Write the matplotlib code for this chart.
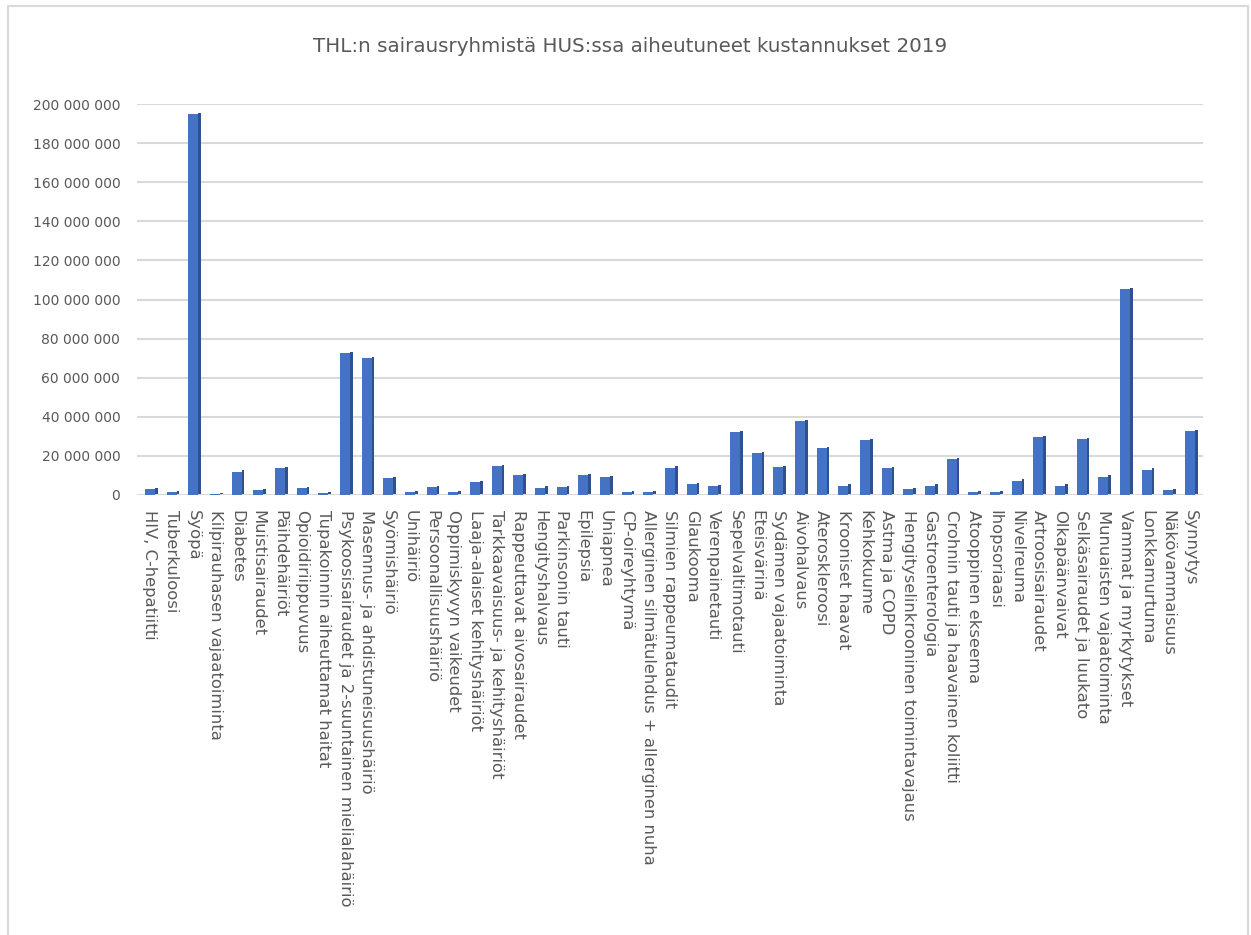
import matplotlib
matplotlib.use("Agg")
import matplotlib.pyplot as plt
import numpy as np
from matplotlib.ticker import FuncFormatter
from matplotlib.patches import Rectangle

# sairausryhmät ja kustannukset (euroa), luettu kuvasta
ryhmat = [
    "HIV, C-hepatiitti", "Tuberkuloosi", "Syöpä", "Kilpirauhasen vajaatoiminta",
    "Diabetes", "Muistisairaudet", "Päihdehäiriöt", "Opioidiriippuvuus",
    "Tupakoinnin aiheuttamat haitat",
    "Psykoosisairaudet ja 2-suuntainen mielialahäiriö",
    "Masennus- ja ahdistuneisuushäiriö", "Syömishäiriö", "Unihäiriö",
    "Persoonallisuushäiriö", "Oppimiskyvyn vaikeudet", "Laaja-alaiset kehityshäiriöt",
    "Tarkkaavaisuus- ja kehityshäiriöt", "Rappeuttavat aivosairaudet",
    "Hengityshalvaus", "Parkinsonin tauti", "Epilepsia", "Uniapnea",
    "CP-oireyhtymä", "Allerginen silmätulehdus + allerginen nuha",
    "Silmien rappeumataudit", "Glaukooma", "Verenpainetauti", "Sepelvaltimotauti",
    "Eteisvärinä", "Sydämen vajaatoiminta", "Aivohalvaus", "Ateroskleroosi",
    "Krooniset haavat", "Kehkokuume", "Astma ja COPD",
    "Hengityselinkrooninen toimintavajaus", "Gastroenterologia",
    "Crohnin tauti ja haavainen koliitti", "Atooppinen ekseema", "Ihopsoriaasi",
    "Nivelreuma", "Artroosisairaudet", "Olkapäänvaivat", "Selkäsairaudet ja luukato",
    "Munuaisten vajaatoiminta", "Vammat ja myrkytykset", "Lonkkamurtuma",
    "Näkövammaisuus", "Synnytys",
]

kustannukset_milj = [
    3.0, 1.4, 195.0, 0.5, 12.0, 2.7, 13.7, 3.6, 0.9, 72.5,
    70.0, 8.6, 1.6, 3.9, 1.7, 6.5, 15.0, 10.0, 3.8, 4.0,
    10.0, 9.0, 1.7, 1.7, 14.0, 5.7, 4.5, 32.0, 21.4, 14.2,
    37.8, 24.0, 4.8, 28.3, 13.9, 3.0, 4.8, 18.4, 1.7, 1.4,
    7.4, 29.6, 4.8, 28.8, 9.4, 105.4, 13.0, 2.7, 32.7,
]

arvot = np.array(kustannukset_milj) * 1e6
x = np.arange(len(ryhmat))

harmaa = "#595959"
fig = plt.figure(figsize=(12.51, 9.35), dpi=100)
fig.patches.append(Rectangle((8 / 1251, -0.1), 1240 / 1251, 1.1 - 6 / 935,
                             transform=fig.transFigure, fill=False,
                             edgecolor="#d9d9d9", linewidth=1.5))

ax = fig.add_axes([137 / 1251, 440 / 935, 1066 / 1251, 391 / 935])

bw = 0.46
sivu = 0.13
ax.bar(x + bw / 2 + sivu / 2, arvot, width=sivu, bottom=0.6e6, color="#2F528F", zorder=3)
ax.bar(x, arvot, width=bw, color="#4472C4", zorder=4)

ax.set_xlim(-0.6, 48.6)
ax.set_ylim(0, 200e6)
ax.set_yticks(np.arange(0, 200e6 + 1, 20e6))
ax.yaxis.set_major_formatter(FuncFormatter(lambda v, p: f"{int(v):,}".replace(",", " ")))
ax.grid(axis="y", color="#d9d9d9", linewidth=1.5, zorder=0)
ax.set_axisbelow(True)
for s in ax.spines.values():
    s.set_visible(False)

ax.set_xticks(x)
ax.set_xticklabels(ryhmat, rotation=-90, fontsize=11.8, color=harmaa)
ax.tick_params(axis="x", length=0, pad=11)
ax.tick_params(axis="y", length=0, pad=12, labelsize=10, labelcolor=harmaa)

fig.text(0.504, 0.95, "THL:n sairausryhmistä HUS:ssa aiheutuneet kustannukset 2019",
         ha="center", va="center", fontsize=14.3, color=harmaa)

fig.savefig("out.png", dpi=100)
